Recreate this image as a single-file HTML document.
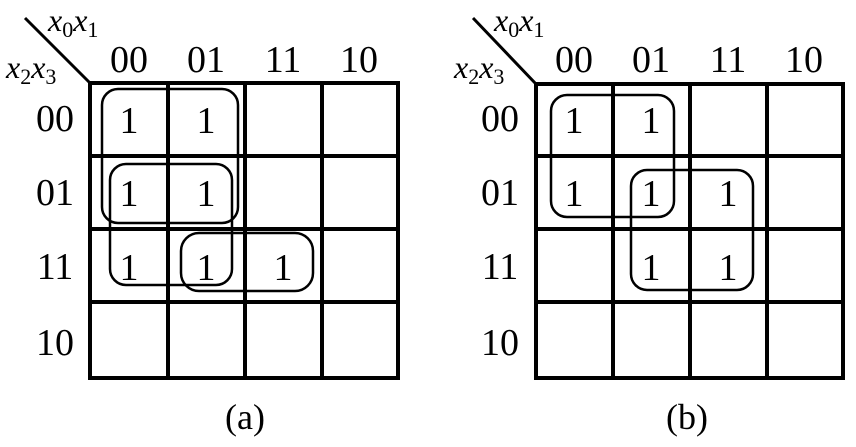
<!DOCTYPE html>
<html><head><style>html,body{margin:0;padding:0;background:#fff}svg{display:block}svg text{font-family:"Liberation Serif","Times New Roman",serif}</style></head>
<body>
<svg width="856" height="447" viewBox="0 0 856 447" xmlns="http://www.w3.org/2000/svg">
<g>
<g stroke="#000" stroke-width="4" fill="none">
<rect x="90" y="83" width="308" height="295"/>
<line x1="168" y1="83" x2="168" y2="378"/><line x1="245" y1="83" x2="245" y2="378"/><line x1="322" y1="83" x2="322" y2="378"/>
<line x1="90" y1="156" x2="398" y2="156"/><line x1="90" y1="229" x2="398" y2="229"/><line x1="90" y1="302" x2="398" y2="302"/>
</g>
<line x1="25" y1="18" x2="90" y2="83" stroke="#000" stroke-width="3"/>
<g stroke="#000" stroke-width="2.5" fill="none">
<rect x="102" y="89" width="136" height="134" rx="16"/>
<rect x="110" y="164" width="122" height="121" rx="16"/>
<rect x="181" y="233" width="132" height="58" rx="18"/>
</g>
<g font-size="38" text-anchor="middle" fill="#000">
<text x="129" y="72">00</text><text x="206" y="72">01</text><text x="283" y="72">11</text><text x="359" y="72">10</text>
<text x="55" y="131">00</text><text x="55" y="205">01</text><text x="55" y="279">11</text><text x="55" y="355">10</text>
<text x="129" y="133">1</text><text x="206" y="133">1</text>
<text x="129" y="206">1</text><text x="206" y="206">1</text>
<text x="129" y="280">1</text><text x="206" y="280">1</text><text x="283" y="280">1</text>
<text x="245" y="429" font-size="36">(a)</text>
</g>
<g font-size="32" font-style="italic" fill="#000">
<text x="48" y="31">x<tspan font-size="22" dy="6" font-style="normal">0</tspan><tspan dy="-6">x</tspan><tspan font-size="22" dy="6" font-style="normal">1</tspan></text>
<text x="6" y="78">x<tspan font-size="22" dy="6" font-style="normal">2</tspan><tspan dy="-6">x</tspan><tspan font-size="22" dy="6" font-style="normal">3</tspan></text>
</g>
</g>
<g>
<g stroke="#000" stroke-width="4" fill="none">
<rect x="536" y="84" width="307" height="294"/>
<line x1="613" y1="84" x2="613" y2="378"/><line x1="690" y1="84" x2="690" y2="378"/><line x1="767" y1="84" x2="767" y2="378"/>
<line x1="536" y1="156" x2="843" y2="156"/><line x1="536" y1="229" x2="843" y2="229"/><line x1="536" y1="302" x2="843" y2="302"/>
</g>
<line x1="473" y1="18" x2="536" y2="84" stroke="#000" stroke-width="3"/>
<g stroke="#000" stroke-width="2.5" fill="none">
<rect x="551" y="95" width="123" height="122" rx="16"/>
<rect x="631" y="170" width="122" height="120" rx="16"/>
</g>
<g font-size="38" text-anchor="middle" fill="#000">
<text x="574" y="72">00</text><text x="651" y="72">01</text><text x="728" y="72">11</text><text x="804" y="72">10</text>
<text x="500" y="131">00</text><text x="500" y="205">01</text><text x="500" y="279">11</text><text x="500" y="355">10</text>
<text x="574" y="133">1</text><text x="651" y="133">1</text>
<text x="574" y="206">1</text><text x="651" y="206">1</text><text x="728" y="206">1</text>
<text x="651" y="280">1</text><text x="728" y="280">1</text>
<text x="687" y="429" font-size="36">(b)</text>
</g>
<g font-size="32" font-style="italic" fill="#000">
<text x="494" y="31">x<tspan font-size="22" dy="6" font-style="normal">0</tspan><tspan dy="-6">x</tspan><tspan font-size="22" dy="6" font-style="normal">1</tspan></text>
<text x="454" y="78">x<tspan font-size="22" dy="6" font-style="normal">2</tspan><tspan dy="-6">x</tspan><tspan font-size="22" dy="6" font-style="normal">3</tspan></text>
</g>
</g>
</svg>
</body></html>
